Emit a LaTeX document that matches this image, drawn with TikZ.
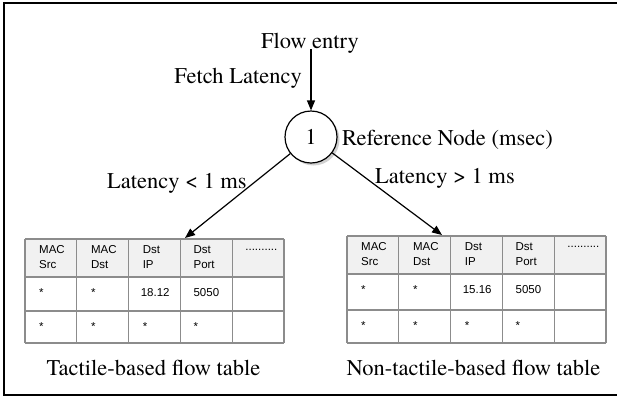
\documentclass[tikz,border=0pt]{standalone}
\usepackage{fontspec}
\setsansfont{Liberation Sans}
\newfontfamily\arialfont{Liberation Sans}
\IfFontExistsTF{texgyretermes-regular.otf}
  {\newfontfamily\timesfont{texgyretermes-regular.otf}\newcommand\lblsize{22.5bp}}
  {\newfontfamily\timesfont{Latin Modern Roman}\newcommand\lblsize{22.5bp}}
\usetikzlibrary{arrows.meta}
\definecolor{gridcol}{HTML}{8C8C8C}
\definecolor{hdrcol}{HTML}{F1F1F1}
\tikzset{
  frameline/.style={draw=black, line width=1.6bp},
  gridline/.style={draw=gridcol, line width=1.3bp},
  hdrfill/.style={fill=hdrcol},
  lbl/.style={inner sep=0pt, font=\timesfont\fontsize{\lblsize}{27bp}\selectfont},
  celltxt/.style={inner sep=0pt, anchor=north west, align=left, font=\arialfont\fontsize{11.5bp}{15bp}\selectfont},
  conn/.style={draw=black, line width=1.2bp, -{Triangle[length=10bp,width=8bp]}},
  refnode/.style={circle, draw=black, line width=1.2bp, fill=white, minimum size=52bp, inner sep=0pt, font=\timesfont\fontsize{\lblsize}{27bp}\selectfont}
}
% #1 prefix, #2 x0, #3 top, #4 header bottom, #5 row2 bottom, #6 bottom, #7 IP value
\newcommand\flowtbl[7]{%
  \fill[hdrfill] (#2,#3) rectangle (#2+259,#4);
  \foreach \i in {0,...,5} \draw[gridline] (#2+\i*51.8,#3) -- (#2+\i*51.8,#6);
  \foreach \yy in {#3,#4,#5,#6} \draw[gridline] (#2,\yy) -- (#2+259,\yy);
  \node[celltxt] (#1-h1) at (#2+14,#3+6.5) {MAC\\Src};
  \node[celltxt] (#1-h2) at (#2+51.8+14,#3+6.5) {MAC\\Dst};
  \node[celltxt] (#1-h3) at (#2+103.6+14,#3+6.5) {Dst\\IP};
  \node[celltxt] (#1-h4) at (#2+155.4+13,#3+6.5) {Dst\\Port};
  \node[celltxt] (#1-h5) at (#2+207.2+13,#3+10.5) {..........};
  \node[celltxt] (#1-a1) at (#2+14,#4+11) {*};
  \node[celltxt] (#1-a2) at (#2+51.8+14,#4+11) {*};
  \node[celltxt] (#1-a3) at (#2+103.6+12,#4+11.5) {#7};
  \node[celltxt] (#1-a4) at (#2+155.4+13,#4+11.5) {5050};
  \node[celltxt] (#1-b1) at (#2+14,#5+11) {*};
  \node[celltxt] (#1-b2) at (#2+51.8+14,#5+11) {*};
  \node[celltxt] (#1-b3) at (#2+103.6+14,#5+11) {*};
  \node[celltxt] (#1-b4) at (#2+155.4+13,#5+11) {*};
}
\begin{document}
\begin{tikzpicture}[x=1bp, y=-1bp]
  \useasboundingbox (0,0) rectangle (617,398);
  % frame (open on the right)
  \draw[frameline] (617,3) -- (4,3) -- (4,395) -- (617,395);
  % tables
  \flowtbl{ta}{25}{239}{277}{311}{343}{18.12}
  \flowtbl{tb}{347}{236}{274}{310}{343}{15.16}
  % reference node with soft shadow
  \fill[black!18] (313.5,139.5) circle (26bp);
  \node[refnode] (n1) at (311,137) {1};
  % labels
  \node[lbl, anchor=base] (flow) at (310,48) {Flow entry};
  \node[lbl, anchor=base east] (fetch) at (302,83) {Fetch Latency};
  \node[lbl, anchor=base west] (refl) at (342,145) {Reference Node (msec)};
  \node[lbl, anchor=base west] (lless) at (107,188) {Latency < 1 ms};
  \node[lbl, anchor=base west] (lmore) at (375,183) {Latency > 1 ms};
  \node[lbl, anchor=base] (capa) at (153.5,375) {Tactile-based flow table};
  \node[lbl, anchor=base] (capb) at (473.5,375) {Non-tactile-based flow table};
  % connectors
  \coordinate (tipa) at (185,238);
  \coordinate (tipb) at (442,235);
  \coordinate (flowstart) at (311,49);
  \draw[conn] (flowstart) -- (n1);
  \draw[conn] (n1) -- (tipa);
  \draw[conn] (n1) -- (tipb);
\end{tikzpicture}
\end{document}
